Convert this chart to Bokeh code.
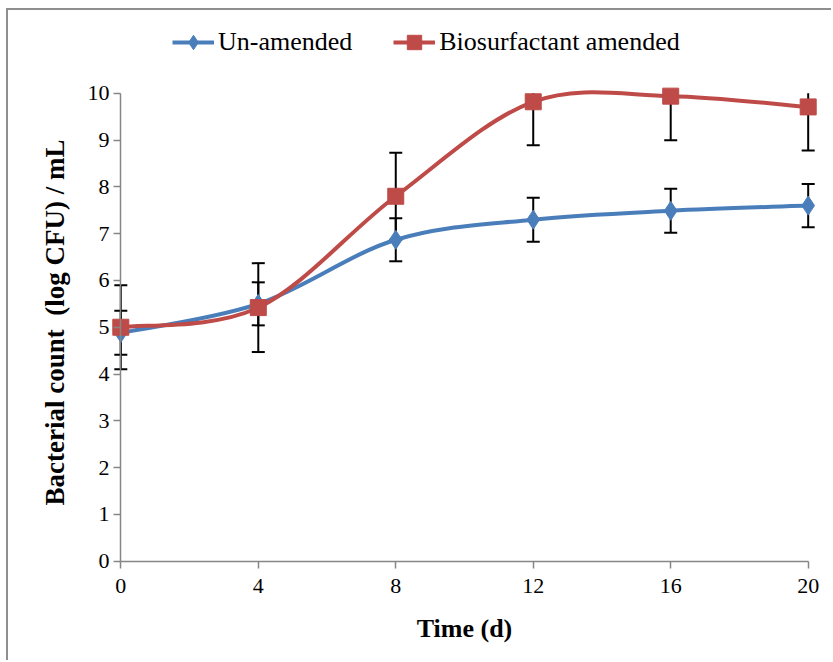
import numpy as np
from bokeh.plotting import figure
from bokeh.models import (ColumnDataSource, Whisker, TeeHead, FixedTicker, Legend,
                          LegendItem, Title, Range1d, LinearAxis)
from bokeh.embed import file_html
from bokeh.resources import INLINE

# ---- data ----
days = [0, 4, 8, 12, 16, 20]
unamended = [4.88, 5.5, 6.87, 7.3, 7.49, 7.6]
unamended_err = [0.47, 0.46, 0.46, 0.47, 0.47, 0.46]
amended = [5.0, 5.42, 7.8, 9.82, 9.94, 9.71]
amended_err = [0.9, 0.95, 0.93, 0.93, 0.94, 0.93]
x_ticks = [0, 4, 8, 12, 16, 20]
y_ticks = [0, 1, 2, 3, 4, 5, 6, 7, 8, 9, 10]
series_names = ["Un-amended", "Biosurfactant amended"]

BLUE = "#4A7EBB"
RED = "#BE4B48"
AXIS = "#868686"
FONT = "Liberation Serif"

p = figure(width=825, height=652, output_backend="svg", toolbar_location=None,
           x_range=Range1d(-0.3, 20.3), y_range=Range1d(-0.2, 11.6),
           min_border_left=102, min_border_right=15, min_border_top=8,
           min_border_bottom=92)
p.styles = {"margin-left": "6px", "margin-top": "8px",
            "border-top": "2px solid #8f8f8f", "border-left": "2px solid #8f8f8f"}
p.outline_line_color = None
p.xgrid.visible = False
p.ygrid.visible = False
p.background_fill_color = "white"
p.border_fill_color = "white"


def smooth_segments(xs, ys):
    xs = np.asarray(xs, float)
    ys = np.asarray(ys, float)
    n = len(xs)
    d = dict(x0=[], y0=[], x1=[], y1=[], cx0=[], cy0=[], cx1=[], cy1=[])
    for i in range(n - 1):
        a = i - 1 if i > 0 else i
        b = i + 2 if i + 2 < n else i + 1
        d["x0"].append(xs[i]); d["y0"].append(ys[i])
        d["x1"].append(xs[i + 1]); d["y1"].append(ys[i + 1])
        d["cx0"].append(xs[i] + (xs[i + 1] - xs[a]) / 6)
        d["cy0"].append(ys[i] + (ys[i + 1] - ys[a]) / 6)
        d["cx1"].append(xs[i + 1] - (xs[b] - xs[i]) / 6)
        d["cy1"].append(ys[i + 1] - (ys[b] - ys[i]) / 6)
    return ColumnDataSource(d)


def add_err(xs, ys, es, top=10.0):
    xs = np.asarray(xs, float); ys = np.asarray(ys, float); es = np.asarray(es, float)
    up = ys + es
    full = up <= top
    if full.any():
        src = ColumnDataSource(dict(x=xs[full], lo=(ys - es)[full], hi=up[full]))
        p.add_layout(Whisker(source=src, base="x", lower="lo", upper="hi",
                             line_color="black", line_width=2,
                             lower_head=TeeHead(size=13, line_color="black", line_width=2),
                             upper_head=TeeHead(size=13, line_color="black", line_width=2)))
    if (~full).any():
        src = ColumnDataSource(dict(x=xs[~full], lo=(ys - es)[~full],
                                    hi=np.minimum(up, top)[~full]))
        p.add_layout(Whisker(source=src, base="x", lower="lo", upper="hi",
                             line_color="black", line_width=2,
                             lower_head=TeeHead(size=13, line_color="black", line_width=2),
                             upper_head=None))


add_err(days, unamended, unamended_err)
add_err(days, amended, amended_err)

p.bezier(source=smooth_segments(days, unamended), x0="x0", y0="y0", x1="x1", y1="y1",
         cx0="cx0", cy0="cy0", cx1="cx1", cy1="cy1", line_color=BLUE, line_width=4)
p.bezier(source=smooth_segments(days, amended), x0="x0", y0="y0", x1="x1", y1="y1",
         cx0="cx0", cy0="cy0", cx1="cx1", cy1="cy1", line_color=RED, line_width=4)

s_blue = p.scatter(days, unamended, marker="diamond", size=19, fill_color=BLUE,
                   line_color=BLUE)
s_red = p.scatter(days, amended, marker="square", size=16, fill_color=RED,
                  line_color=RED)

# line proxies for the legend (a single missing point: nothing is drawn in the plot)
l_blue = p.line(x=[float("nan")], y=[float("nan")], line_color=BLUE, line_width=4)
l_red = p.line(x=[float("nan")], y=[float("nan")], line_color=RED, line_width=4)

legend = Legend(items=[LegendItem(label=series_names[0], renderers=[l_blue, s_blue]),
                       LegendItem(label=series_names[1], renderers=[l_red, s_red])],
                orientation="horizontal", location=(62, 510),
                glyph_width=42, glyph_height=36, label_standoff=4, spacing=41,
                padding=0, margin=0, border_line_color=None,
                background_fill_alpha=0,
                label_text_font=FONT, label_text_font_size="26px",
                label_text_color="black")
p.add_layout(legend, "center")

# label-only axes at the frame edges
for ax in (p.xaxis[0], p.yaxis[0]):
    ax.axis_line_color = None
    ax.major_tick_line_color = None
    ax.major_tick_out = 0
    ax.major_tick_in = 0
    ax.minor_tick_line_color = None
    ax.major_label_text_font = FONT
    ax.major_label_text_font_size = "22px"
    ax.major_label_text_color = "black"
p.xaxis[0].ticker = FixedTicker(ticks=x_ticks)
p.yaxis[0].ticker = FixedTicker(ticks=y_ticks)
p.xaxis[0].major_label_standoff = 8
p.yaxis[0].major_label_standoff = 1
p.xaxis[0].axis_label = "Time (d)"
p.xaxis[0].axis_label_text_font = FONT
p.xaxis[0].axis_label_text_font_style = "bold"
p.xaxis[0].axis_label_text_font_size = "26px"
p.xaxis[0].axis_label_text_color = "black"
p.xaxis[0].axis_label_standoff = 18

# axis lines and ticks drawn at x = 0 and y = 0
xline = LinearAxis(fixed_location=0, ticker=FixedTicker(ticks=x_ticks), bounds=(0, 20))
yline = LinearAxis(fixed_location=0, ticker=FixedTicker(ticks=y_ticks), bounds=(0, 10))
for ax in (xline, yline):
    ax.axis_line_color = AXIS
    ax.axis_line_width = 1.5
    ax.major_tick_line_color = AXIS
    ax.major_tick_line_width = 1.5
    ax.major_tick_out = 7
    ax.major_tick_in = 0
    ax.minor_tick_line_color = None
    ax.major_label_text_color = None
p.add_layout(yline, "left")

ytitle = Title(text="Bacterial count \u00a0(log CFU) / mL", align="left", offset=65,
               text_font=FONT, text_font_style="bold", text_font_size="27px",
               text_color="black")
if "standoff" in Title.properties():
    ytitle.standoff = 30
p.add_layout(ytitle, "left")

p.add_layout(xline, "below")

open("out.html", "w").write(file_html(p, INLINE))
